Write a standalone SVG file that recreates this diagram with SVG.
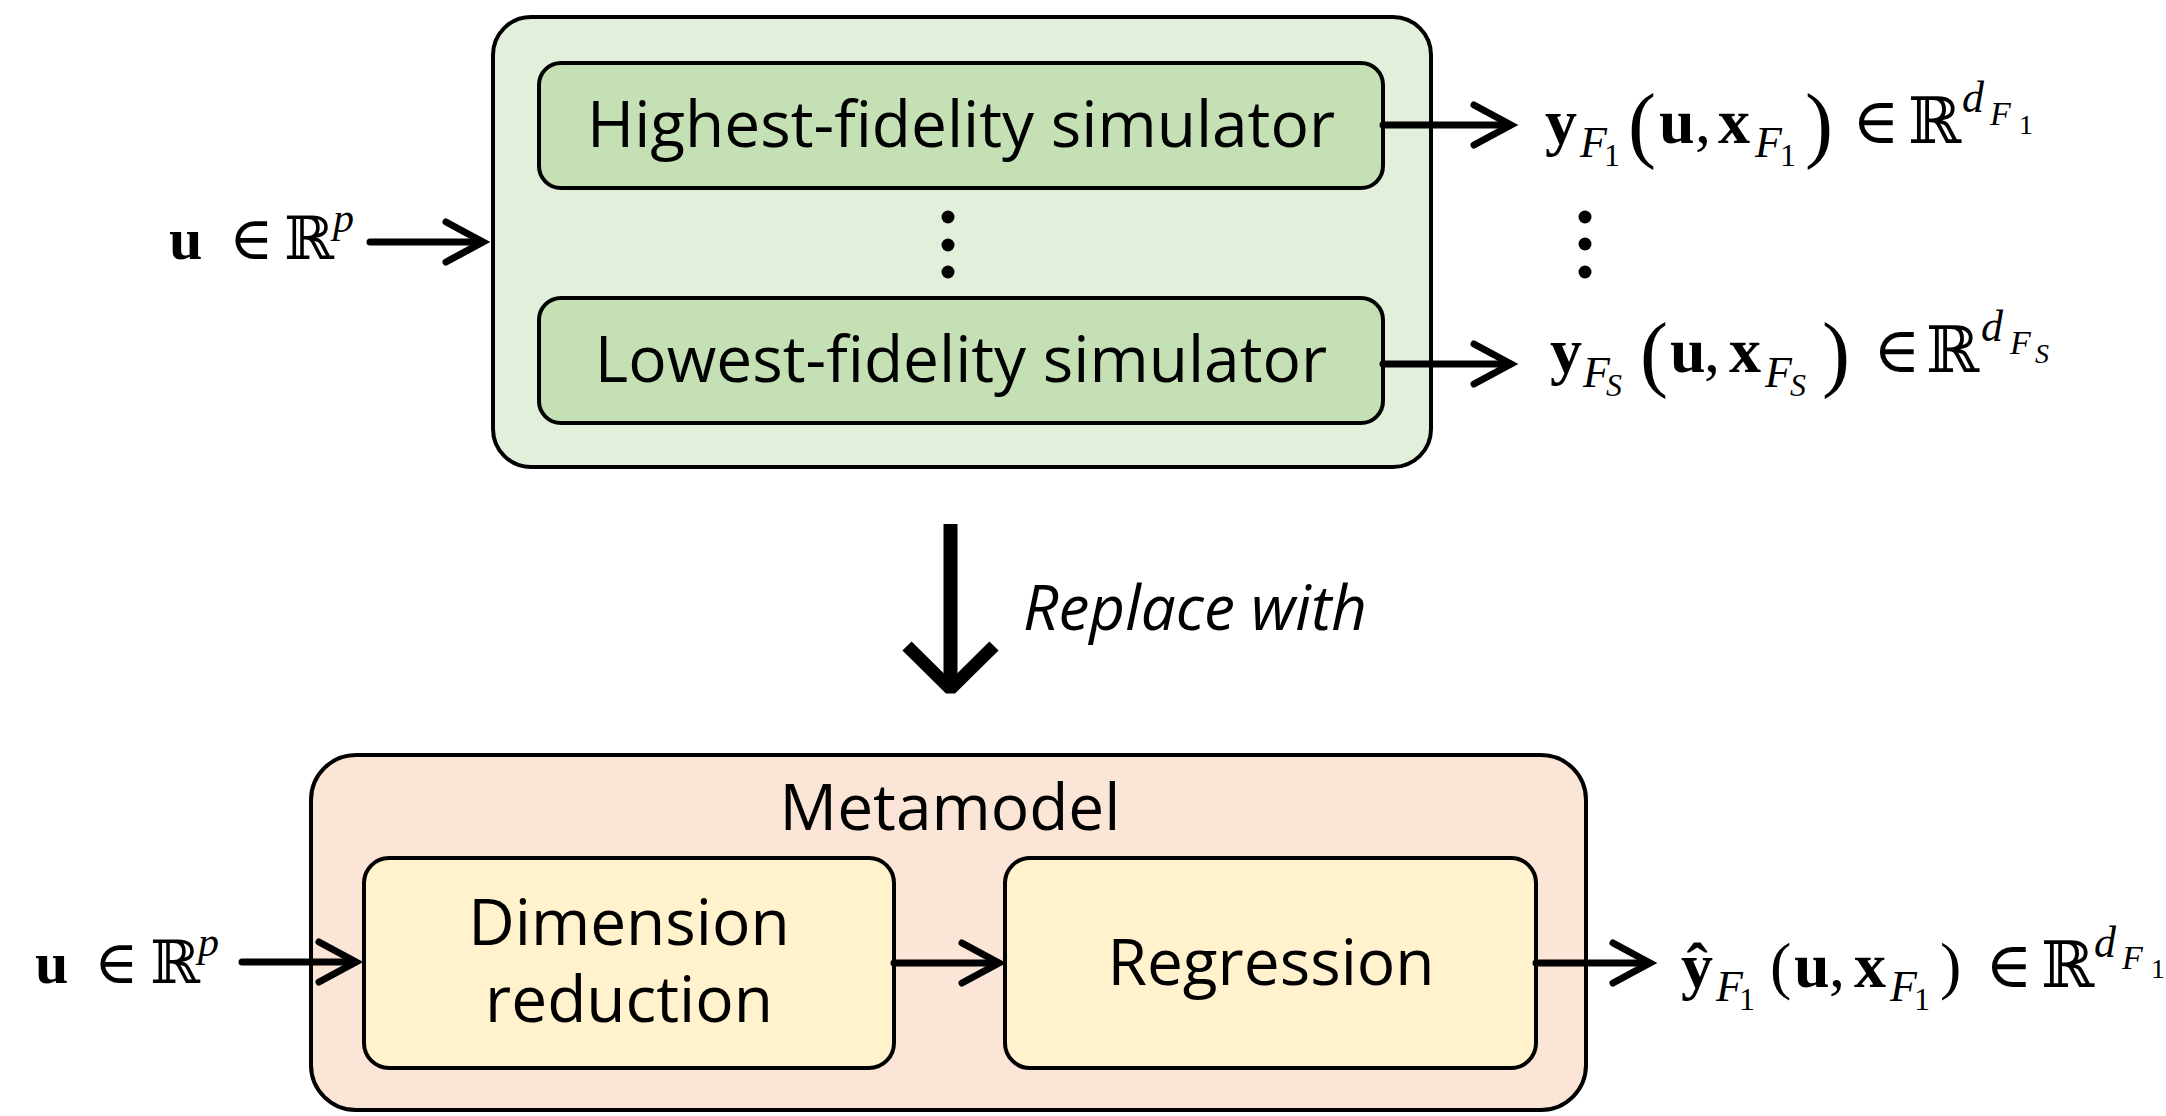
<svg xmlns="http://www.w3.org/2000/svg" width="2166" height="1116" viewBox="0 0 2166 1116">
<style>
.outerG{fill:#E2EFDA;stroke:#000;stroke-width:4}
.innerG{fill:#C5E0B4;stroke:#000;stroke-width:4}
.outerO{fill:#FBE5D6;stroke:#000;stroke-width:4}
.innerY{fill:#FFF2CC;stroke:#000;stroke-width:4}
.lbl{font-family:"Open Sans","Noto Sans",sans-serif;font-size:64px;fill:#000;text-anchor:middle}
.it{font-family:"Open Sans","Noto Sans",sans-serif;font-size:62px;font-style:italic;fill:#000}
.m{font-family:"Liberation Serif","DejaVu Serif",serif;fill:#000}
.b{font-weight:bold}
.i{font-style:italic}
.ln{stroke:#000;stroke-width:7;fill:none;stroke-linecap:round}
.hd{stroke:#000;stroke-width:7;fill:none;stroke-linecap:round;stroke-linejoin:miter}
.dot{fill:#000}
</style>
<g id="simulators">
<rect class="outerG" x="493" y="17" width="938" height="450" rx="38" ry="38"/>
</g>
<g id="highest">
<rect class="innerG" x="539" y="63" width="844" height="125" rx="22" ry="22"/>
<text class="lbl" x="961" y="147">Highest-fidelity simulator</text>
</g>
<g id="dots-left">
<circle class="dot" cx="948" cy="217" r="6.5"/>
<circle class="dot" cx="948" cy="245" r="6.5"/>
<circle class="dot" cx="948" cy="272" r="6.5"/>
</g>
<g id="lowest">
<rect class="innerG" x="539" y="298" width="844" height="125" rx="22" ry="22"/>
<text class="lbl" x="961" y="382">Lowest-fidelity simulator</text>
</g>
<g id="metamodel">
<rect class="outerO" x="311" y="755" width="1275" height="355" rx="45" ry="45"/>
<text class="lbl" x="950" y="830">Metamodel</text>
</g>
<g id="dimred">
<rect class="innerY" x="364" y="858" width="530" height="210" rx="25" ry="25"/>
<text class="lbl"><tspan x="629" y="945">Dimension</tspan><tspan x="629" y="1022">reduction</tspan></text>
</g>
<g id="regression">
<rect class="innerY" x="1005" y="858" width="531" height="210" rx="25" ry="25"/>
<text class="lbl" x="1271" y="985">Regression</text>
</g>
<g id="input-top">
<text class="m" font-size="60" y="259"><tspan class="b" x="169">u</tspan><tspan x="229">∈</tspan><tspan x="284">ℝ</tspan><tspan class="i" x="333" y="232" font-size="42">p</tspan></text>
</g>
<g id="input-bottom">
<text class="m" font-size="60" y="983"><tspan class="b" x="35">u</tspan><tspan x="94">∈</tspan><tspan x="150">ℝ</tspan><tspan class="i" x="198" y="956" font-size="42">p</tspan></text>
</g>
<g id="output-high">
<text class="m" font-size="64" y="143"><tspan class="b" x="1545">y</tspan><tspan class="i" x="1580" y="157" font-size="44">F</tspan><tspan x="1604" y="166" font-size="32">1</tspan><tspan x="1628" y="152" font-size="84">(</tspan><tspan class="b" x="1659" y="143">u</tspan><tspan x="1695">,</tspan><tspan class="b" x="1718">x</tspan><tspan class="i" x="1755" y="157" font-size="44">F</tspan><tspan x="1780" y="166" font-size="32">1</tspan><tspan x="1805" y="152" font-size="84">)</tspan><tspan x="1852" y="143">∈</tspan><tspan x="1908">ℝ</tspan><tspan class="i" x="1962" y="112" font-size="44">d</tspan><tspan class="i" x="1990" y="125" font-size="34">F</tspan><tspan x="2019" y="134" font-size="28">1</tspan></text>
</g>
<g id="dots-right">
<circle class="dot" cx="1585" cy="217" r="6.5"/>
<circle class="dot" cx="1585" cy="244" r="6.5"/>
<circle class="dot" cx="1585" cy="272" r="6.5"/>
</g>
<g id="output-low">
<text class="m" font-size="64" y="372"><tspan class="b" x="1550">y</tspan><tspan class="i" x="1583" y="387" font-size="44">F</tspan><tspan class="i" x="1606" y="396" font-size="32">S</tspan><tspan x="1640" y="381" font-size="84">(</tspan><tspan class="b" x="1670" y="372">u</tspan><tspan x="1704">,</tspan><tspan class="b" x="1729">x</tspan><tspan class="i" x="1765" y="387" font-size="44">F</tspan><tspan class="i" x="1790" y="396" font-size="32">S</tspan><tspan x="1822" y="381" font-size="84">)</tspan><tspan x="1873" y="372">∈</tspan><tspan x="1926">ℝ</tspan><tspan class="i" x="1981" y="341" font-size="44">d</tspan><tspan class="i" x="2010" y="354" font-size="34">F</tspan><tspan class="i" x="2035" y="363" font-size="28">S</tspan></text>
</g>
<g id="output-meta">
<text class="m" font-size="64" y="987"><tspan class="b" x="1681">ŷ</tspan><tspan class="i" x="1716" y="1001" font-size="44">F</tspan><tspan x="1739" y="1010" font-size="32">1</tspan><tspan x="1770" y="987">(</tspan><tspan class="b" x="1794">u</tspan><tspan x="1829">,</tspan><tspan class="b" x="1854">x</tspan><tspan class="i" x="1890" y="1001" font-size="44">F</tspan><tspan x="1914" y="1010" font-size="32">1</tspan><tspan x="1940" y="987">)</tspan><tspan x="1985">∈</tspan><tspan x="2041">ℝ</tspan><tspan class="i" x="2094" y="957" font-size="44">d</tspan><tspan class="i" x="2122" y="969" font-size="34">F</tspan><tspan x="2151" y="978" font-size="28">1</tspan></text>
</g>
<g id="replace-label">
<text class="it" x="1023" y="630">Replace with</text>
</g>
<g id="connectors">
<line class="ln" x1="370" y1="242" x2="482" y2="242"/>
<polyline class="hd" points="446,222 483,242 446,262"/>
<line class="ln" x1="1383" y1="125" x2="1510" y2="125"/>
<polyline class="hd" points="1474,105 1511,125 1474,145"/>
<line class="ln" x1="1383" y1="364" x2="1510" y2="364"/>
<polyline class="hd" points="1474,344 1511,364 1474,384"/>
<line class="ln" x1="242" y1="962" x2="355" y2="962"/>
<polyline class="hd" points="319,942 356,962 319,982"/>
<line class="ln" x1="894" y1="963" x2="998" y2="963"/>
<polyline class="hd" points="962,943 999,963 962,983"/>
<line class="ln" x1="1536" y1="963" x2="1649" y2="963"/>
<polyline class="hd" points="1613,943 1650,963 1613,983"/>
<line x1="950.5" y1="524" x2="950.5" y2="686" stroke="#000" stroke-width="14"/>
<polyline points="907,646 950.5,689 994,646" fill="none" stroke="#000" stroke-width="13" stroke-linejoin="bevel"/>
</g>
</svg>
